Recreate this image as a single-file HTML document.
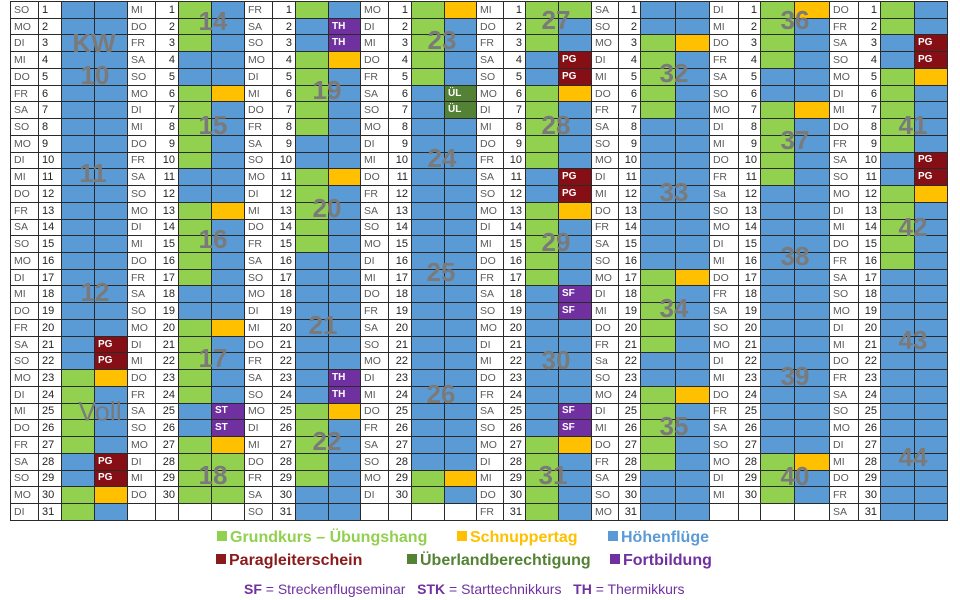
<!DOCTYPE html>
<html><head><meta charset="utf-8"><style>
body{margin:0;width:960px;height:600px;background:#fff;position:relative;overflow:hidden;font-family:"Liberation Sans",sans-serif}
table{position:absolute;top:1px;height:520px;border-collapse:collapse;table-layout:fixed}
td{border:1px solid #2a2a2a;padding:0 3px;font-size:11px;color:#222;height:15.7px;line-height:14px;white-space:nowrap;overflow:hidden}
td:first-child{color:#5a5a5a;font-size:10.5px}
td:nth-child(2){text-align:right}
.t1 td:nth-child(2){text-align:left}
.b{background:#5B9BD5}.g{background:#92D050}.o{background:#FFC000}
.r{background:#850F14;color:#fff;font-size:10px;font-weight:bold}
.u{background:#548235;color:#fff;font-size:10px;font-weight:bold}
.p{background:#7030A0;color:#fff;font-size:10px;font-weight:bold}
.k{position:absolute;font-weight:bold;font-size:26px;color:#7a7a7a;transform:translate(-50%,-50%);line-height:1}
.lg{position:absolute;font-weight:bold;font-size:16px;white-space:nowrap;transform:translateY(-50%)}
.sq{display:inline-block;width:10px;height:10px;margin-right:3px;vertical-align:1px}
</style></head><body>

<table class="t1" style="left:10px;width:117px"><colgroup><col style="width:28px"><col style="width:23px"><col style="width:33px"><col style="width:33px"></colgroup>
<tr><td>SO<td>1<td class=b><td class=b>
<tr><td>MO<td>2<td class=b><td class=b>
<tr><td>DI<td>3<td class=b><td class=b>
<tr><td>MI<td>4<td class=b><td class=b>
<tr><td>DO<td>5<td class=b><td class=b>
<tr><td>FR<td>6<td class=b><td class=b>
<tr><td>SA<td>7<td class=b><td class=b>
<tr><td>SO<td>8<td class=b><td class=b>
<tr><td>MO<td>9<td class=b><td class=b>
<tr><td>DI<td>10<td class=b><td class=b>
<tr><td>MI<td>11<td class=b><td class=b>
<tr><td>DO<td>12<td class=b><td class=b>
<tr><td>FR<td>13<td class=b><td class=b>
<tr><td>SA<td>14<td class=b><td class=b>
<tr><td>SO<td>15<td class=b><td class=b>
<tr><td>MO<td>16<td class=b><td class=b>
<tr><td>DI<td>17<td class=b><td class=b>
<tr><td>MI<td>18<td class=b><td class=b>
<tr><td>DO<td>19<td class=b><td class=b>
<tr><td>FR<td>20<td class=b><td class=b>
<tr><td>SA<td>21<td class=b><td class=r>PG
<tr><td>SO<td>22<td class=b><td class=r>PG
<tr><td>MO<td>23<td class=g><td class=o>
<tr><td>DI<td>24<td class=g><td class=b>
<tr><td>MI<td>25<td class=g><td class=b>
<tr><td>DO<td>26<td class=g><td class=b>
<tr><td>FR<td>27<td class=g><td class=b>
<tr><td>SA<td>28<td class=b><td class=r>PG
<tr><td>SO<td>29<td class=b><td class=r>PG
<tr><td>MO<td>30<td class=g><td class=o>
<tr><td>DI<td>31<td class=g><td class=b>
</table>

<table style="left:127px;width:117px"><colgroup><col style="width:28px"><col style="width:23px"><col style="width:33px"><col style="width:33px"></colgroup>
<tr><td>MI<td>1<td class=g><td class=b>
<tr><td>DO<td>2<td class=g><td class=b>
<tr><td>FR<td>3<td class=g><td class=b>
<tr><td>SA<td>4<td class=b><td class=b>
<tr><td>SO<td>5<td class=b><td class=b>
<tr><td>MO<td>6<td class=g><td class=o>
<tr><td>DI<td>7<td class=g><td class=b>
<tr><td>MI<td>8<td class=g><td class=b>
<tr><td>DO<td>9<td class=g><td class=b>
<tr><td>FR<td>10<td class=g><td class=b>
<tr><td>SA<td>11<td class=b><td class=b>
<tr><td>SO<td>12<td class=b><td class=b>
<tr><td>MO<td>13<td class=g><td class=o>
<tr><td>DI<td>14<td class=g><td class=b>
<tr><td>MI<td>15<td class=g><td class=b>
<tr><td>DO<td>16<td class=g><td class=b>
<tr><td>FR<td>17<td class=g><td class=b>
<tr><td>SA<td>18<td class=b><td class=b>
<tr><td>SO<td>19<td class=b><td class=b>
<tr><td>MO<td>20<td class=g><td class=o>
<tr><td>DI<td>21<td class=g><td class=b>
<tr><td>MI<td>22<td class=g><td class=b>
<tr><td>DO<td>23<td class=g><td class=b>
<tr><td>FR<td>24<td class=g><td class=b>
<tr><td>SA<td>25<td class=b><td class=p>ST
<tr><td>SO<td>26<td class=b><td class=p>ST
<tr><td>MO<td>27<td class=g><td class=o>
<tr><td>DI<td>28<td class=g><td class=g>
<tr><td>MI<td>29<td class=g><td class=g>
<tr><td>DO<td>30<td class=g><td class=g>
<tr><td><td><td><td>
</table>

<table style="left:244px;width:116px"><colgroup><col style="width:28px"><col style="width:23px"><col style="width:33px"><col style="width:32px"></colgroup>
<tr><td>FR<td>1<td class=g><td class=b>
<tr><td>SA<td>2<td class=b><td class=p>TH
<tr><td>SO<td>3<td class=b><td class=p>TH
<tr><td>MO<td>4<td class=g><td class=o>
<tr><td>DI<td>5<td class=g><td class=b>
<tr><td>MI<td>6<td class=g><td class=b>
<tr><td>DO<td>7<td class=g><td class=b>
<tr><td>FR<td>8<td class=g><td class=b>
<tr><td>SA<td>9<td class=b><td class=b>
<tr><td>SO<td>10<td class=b><td class=b>
<tr><td>MO<td>11<td class=g><td class=o>
<tr><td>DI<td>12<td class=g><td class=b>
<tr><td>MI<td>13<td class=g><td class=b>
<tr><td>DO<td>14<td class=g><td class=b>
<tr><td>FR<td>15<td class=g><td class=b>
<tr><td>SA<td>16<td class=b><td class=b>
<tr><td>SO<td>17<td class=b><td class=b>
<tr><td>MO<td>18<td class=b><td class=b>
<tr><td>DI<td>19<td class=b><td class=b>
<tr><td>MI<td>20<td class=b><td class=b>
<tr><td>DO<td>21<td class=b><td class=b>
<tr><td>FR<td>22<td class=b><td class=b>
<tr><td>SA<td>23<td class=b><td class=p>TH
<tr><td>SO<td>24<td class=b><td class=p>TH
<tr><td>MO<td>25<td class=g><td class=o>
<tr><td>DI<td>26<td class=g><td class=b>
<tr><td>MI<td>27<td class=g><td class=b>
<tr><td>DO<td>28<td class=g><td class=b>
<tr><td>FR<td>29<td class=g><td class=b>
<tr><td>SA<td>30<td class=b><td class=b>
<tr><td>SO<td>31<td class=b><td class=b>
</table>

<table style="left:360px;width:116px"><colgroup><col style="width:28px"><col style="width:23px"><col style="width:33px"><col style="width:32px"></colgroup>
<tr><td>MO<td>1<td class=g><td class=o>
<tr><td>DI<td>2<td class=g><td class=b>
<tr><td>MI<td>3<td class=g><td class=b>
<tr><td>DO<td>4<td class=g><td class=b>
<tr><td>FR<td>5<td class=g><td class=b>
<tr><td>SA<td>6<td class=b><td class=u>ÜL
<tr><td>SO<td>7<td class=b><td class=u>ÜL
<tr><td>MO<td>8<td class=b><td class=b>
<tr><td>DI<td>9<td class=b><td class=b>
<tr><td>MI<td>10<td class=b><td class=b>
<tr><td>DO<td>11<td class=b><td class=b>
<tr><td>FR<td>12<td class=b><td class=b>
<tr><td>SA<td>13<td class=b><td class=b>
<tr><td>SO<td>14<td class=b><td class=b>
<tr><td>MO<td>15<td class=b><td class=b>
<tr><td>DI<td>16<td class=b><td class=b>
<tr><td>MI<td>17<td class=b><td class=b>
<tr><td>DO<td>18<td class=b><td class=b>
<tr><td>FR<td>19<td class=b><td class=b>
<tr><td>SA<td>20<td class=b><td class=b>
<tr><td>SO<td>21<td class=b><td class=b>
<tr><td>MO<td>22<td class=b><td class=b>
<tr><td>DI<td>23<td class=b><td class=b>
<tr><td>MI<td>24<td class=b><td class=b>
<tr><td>DO<td>25<td class=b><td class=b>
<tr><td>FR<td>26<td class=b><td class=b>
<tr><td>SA<td>27<td class=b><td class=b>
<tr><td>SO<td>28<td class=b><td class=b>
<tr><td>MO<td>29<td class=g><td class=o>
<tr><td>DI<td>30<td class=g><td class=b>
<tr><td><td><td><td>
</table>

<table style="left:476px;width:115px"><colgroup><col style="width:27px"><col style="width:22px"><col style="width:33px"><col style="width:33px"></colgroup>
<tr><td>MI<td>1<td class=g><td class=g>
<tr><td>DO<td>2<td class=g><td class=b>
<tr><td>FR<td>3<td class=g><td class=b>
<tr><td>SA<td>4<td class=b><td class=r>PG
<tr><td>SO<td>5<td class=b><td class=r>PG
<tr><td>MO<td>6<td class=g><td class=o>
<tr><td>DI<td>7<td class=g><td class=b>
<tr><td>MI<td>8<td class=g><td class=b>
<tr><td>DO<td>9<td class=g><td class=b>
<tr><td>FR<td>10<td class=g><td class=b>
<tr><td>SA<td>11<td class=b><td class=r>PG
<tr><td>SO<td>12<td class=b><td class=r>PG
<tr><td>MO<td>13<td class=g><td class=o>
<tr><td>DI<td>14<td class=g><td class=b>
<tr><td>MI<td>15<td class=g><td class=b>
<tr><td>DO<td>16<td class=g><td class=b>
<tr><td>FR<td>17<td class=g><td class=b>
<tr><td>SA<td>18<td class=b><td class=p>SF
<tr><td>SO<td>19<td class=b><td class=p>SF
<tr><td>MO<td>20<td class=b><td class=b>
<tr><td>DI<td>21<td class=b><td class=b>
<tr><td>MI<td>22<td class=b><td class=b>
<tr><td>DO<td>23<td class=b><td class=b>
<tr><td>FR<td>24<td class=b><td class=b>
<tr><td>SA<td>25<td class=b><td class=p>SF
<tr><td>SO<td>26<td class=b><td class=p>SF
<tr><td>MO<td>27<td class=g><td class=o>
<tr><td>DI<td>28<td class=g><td class=b>
<tr><td>MI<td>29<td class=g><td class=b>
<tr><td>DO<td>30<td class=g><td class=b>
<tr><td>FR<td>31<td class=g><td class=b>
</table>

<table style="left:591px;width:118px"><colgroup><col style="width:27px"><col style="width:22px"><col style="width:35px"><col style="width:34px"></colgroup>
<tr><td>SA<td>1<td class=b><td class=b>
<tr><td>SO<td>2<td class=b><td class=b>
<tr><td>MO<td>3<td class=g><td class=o>
<tr><td>DI<td>4<td class=g><td class=b>
<tr><td>MI<td>5<td class=g><td class=b>
<tr><td>DO<td>6<td class=g><td class=b>
<tr><td>FR<td>7<td class=g><td class=b>
<tr><td>SA<td>8<td class=b><td class=b>
<tr><td>SO<td>9<td class=b><td class=b>
<tr><td>MO<td>10<td class=b><td class=b>
<tr><td>DI<td>11<td class=b><td class=b>
<tr><td>MI<td>12<td class=b><td class=b>
<tr><td>DO<td>13<td class=b><td class=b>
<tr><td>FR<td>14<td class=b><td class=b>
<tr><td>SA<td>15<td class=b><td class=b>
<tr><td>SO<td>16<td class=b><td class=b>
<tr><td>MO<td>17<td class=g><td class=o>
<tr><td>DI<td>18<td class=g><td class=b>
<tr><td>MI<td>19<td class=g><td class=b>
<tr><td>DO<td>20<td class=g><td class=b>
<tr><td>FR<td>21<td class=g><td class=b>
<tr><td>Sa<td>22<td class=b><td class=b>
<tr><td>SO<td>23<td class=b><td class=b>
<tr><td>MO<td>24<td class=g><td class=o>
<tr><td>DI<td>25<td class=g><td class=b>
<tr><td>MI<td>26<td class=g><td class=b>
<tr><td>DO<td>27<td class=g><td class=b>
<tr><td>FR<td>28<td class=g><td class=b>
<tr><td>SA<td>29<td class=b><td class=b>
<tr><td>SO<td>30<td class=b><td class=b>
<tr><td>MO<td>31<td class=b><td class=b>
</table>

<table style="left:709px;width:120px"><colgroup><col style="width:29px"><col style="width:22px"><col style="width:34px"><col style="width:35px"></colgroup>
<tr><td>DI<td>1<td class=g><td class=o>
<tr><td>MI<td>2<td class=g><td class=b>
<tr><td>DO<td>3<td class=g><td class=b>
<tr><td>FR<td>4<td class=g><td class=b>
<tr><td>SA<td>5<td class=b><td class=b>
<tr><td>SO<td>6<td class=b><td class=b>
<tr><td>MO<td>7<td class=g><td class=o>
<tr><td>DI<td>8<td class=g><td class=b>
<tr><td>MI<td>9<td class=g><td class=b>
<tr><td>DO<td>10<td class=g><td class=b>
<tr><td>FR<td>11<td class=g><td class=b>
<tr><td>Sa<td>12<td class=b><td class=b>
<tr><td>SO<td>13<td class=b><td class=b>
<tr><td>MO<td>14<td class=b><td class=b>
<tr><td>DI<td>15<td class=b><td class=b>
<tr><td>MI<td>16<td class=b><td class=b>
<tr><td>DO<td>17<td class=b><td class=b>
<tr><td>FR<td>18<td class=b><td class=b>
<tr><td>SA<td>19<td class=b><td class=b>
<tr><td>SO<td>20<td class=b><td class=b>
<tr><td>MO<td>21<td class=b><td class=b>
<tr><td>DI<td>22<td class=b><td class=b>
<tr><td>MI<td>23<td class=b><td class=b>
<tr><td>DO<td>24<td class=b><td class=b>
<tr><td>FR<td>25<td class=b><td class=b>
<tr><td>SA<td>26<td class=b><td class=b>
<tr><td>SO<td>27<td class=b><td class=b>
<tr><td>MO<td>28<td class=g><td class=o>
<tr><td>DI<td>29<td class=g><td class=b>
<tr><td>MI<td>30<td class=g><td class=b>
<tr><td><td><td><td>
</table>

<table style="left:829px;width:118px"><colgroup><col style="width:29px"><col style="width:22px"><col style="width:34px"><col style="width:33px"></colgroup>
<tr><td>DO<td>1<td class=g><td class=b>
<tr><td>FR<td>2<td class=g><td class=b>
<tr><td>SA<td>3<td class=b><td class=r>PG
<tr><td>SO<td>4<td class=b><td class=r>PG
<tr><td>MO<td>5<td class=g><td class=o>
<tr><td>DI<td>6<td class=g><td class=b>
<tr><td>MI<td>7<td class=g><td class=b>
<tr><td>DO<td>8<td class=g><td class=b>
<tr><td>FR<td>9<td class=g><td class=b>
<tr><td>SA<td>10<td class=b><td class=r>PG
<tr><td>SO<td>11<td class=b><td class=r>PG
<tr><td>MO<td>12<td class=g><td class=o>
<tr><td>DI<td>13<td class=g><td class=b>
<tr><td>MI<td>14<td class=g><td class=b>
<tr><td>DO<td>15<td class=g><td class=b>
<tr><td>FR<td>16<td class=g><td class=b>
<tr><td>SA<td>17<td class=b><td class=b>
<tr><td>SO<td>18<td class=b><td class=b>
<tr><td>MO<td>19<td class=b><td class=b>
<tr><td>DI<td>20<td class=b><td class=b>
<tr><td>MI<td>21<td class=b><td class=b>
<tr><td>DO<td>22<td class=b><td class=b>
<tr><td>FR<td>23<td class=b><td class=b>
<tr><td>SA<td>24<td class=b><td class=b>
<tr><td>SO<td>25<td class=b><td class=b>
<tr><td>MO<td>26<td class=b><td class=b>
<tr><td>DI<td>27<td class=b><td class=b>
<tr><td>MI<td>28<td class=b><td class=b>
<tr><td>DO<td>29<td class=b><td class=b>
<tr><td>FR<td>30<td class=b><td class=b>
<tr><td>SA<td>31<td class=b><td class=b>
</table>

<div class="k" style="left:94px;top:43px">KW</div>
<div class="k" style="left:95px;top:75px">10</div>
<div class="k" style="left:93px;top:173px">11</div>
<div class="k" style="left:95px;top:292px">12</div>
<div class="k" style="left:100px;top:412px;font-weight:normal;font-size:27px">Voll</div>
<div class="k" style="left:213px;top:21px">14</div>
<div class="k" style="left:213px;top:125px">15</div>
<div class="k" style="left:213px;top:239px">16</div>
<div class="k" style="left:213px;top:358px">17</div>
<div class="k" style="left:213px;top:475px">18</div>
<div class="k" style="left:327px;top:90px">19</div>
<div class="k" style="left:327px;top:208px">20</div>
<div class="k" style="left:323px;top:325px">21</div>
<div class="k" style="left:327px;top:441px">22</div>
<div class="k" style="left:442px;top:40px">23</div>
<div class="k" style="left:442px;top:158px">24</div>
<div class="k" style="left:441px;top:272px">25</div>
<div class="k" style="left:441px;top:394px">26</div>
<div class="k" style="left:556px;top:20px">27</div>
<div class="k" style="left:556px;top:125px">28</div>
<div class="k" style="left:556px;top:242px">29</div>
<div class="k" style="left:556px;top:360px">30</div>
<div class="k" style="left:553px;top:475px">31</div>
<div class="k" style="left:674px;top:73px">32</div>
<div class="k" style="left:674px;top:192px">33</div>
<div class="k" style="left:674px;top:308px">34</div>
<div class="k" style="left:674px;top:426px">35</div>
<div class="k" style="left:795px;top:20px">36</div>
<div class="k" style="left:795px;top:140px">37</div>
<div class="k" style="left:795px;top:256px">38</div>
<div class="k" style="left:795px;top:376px">39</div>
<div class="k" style="left:795px;top:476px">40</div>
<div class="k" style="left:913px;top:125px">41</div>
<div class="k" style="left:913px;top:227px">42</div>
<div class="k" style="left:913px;top:340px">43</div>
<div class="k" style="left:913px;top:457px">44</div>

<div class="lg" style="left:217px;top:538px;color:#92D050"><span class="sq" style="background:#92D050"></span>Grundkurs – Übungshang</div>
<div class="lg" style="left:457px;top:538px;color:#FFC000"><span class="sq" style="background:#FFC000"></span>Schnuppertag</div>
<div class="lg" style="left:608px;top:538px;color:#5B9BD5"><span class="sq" style="background:#5B9BD5"></span>Höhenflüge</div>
<div class="lg" style="left:216px;top:561px;color:#8B1A1A"><span class="sq" style="background:#8B1A1A"></span>Paragleiterschein</div>
<div class="lg" style="left:407px;top:561px;color:#548235"><span class="sq" style="background:#548235"></span>Überlandberechtigung</div>
<div class="lg" style="left:610px;top:561px;color:#7030A0"><span class="sq" style="background:#7030A0"></span>Fortbildung</div>
<div class="lg" style="left:244px;top:589px;color:#7030A0;font-weight:normal;font-size:14px"><b>SF</b> = Streckenflugseminar &nbsp;&nbsp;<b>STK</b> = Starttechnikkurs &nbsp;&nbsp;<b>TH</b> = Thermikkurs</div>
</body></html>
